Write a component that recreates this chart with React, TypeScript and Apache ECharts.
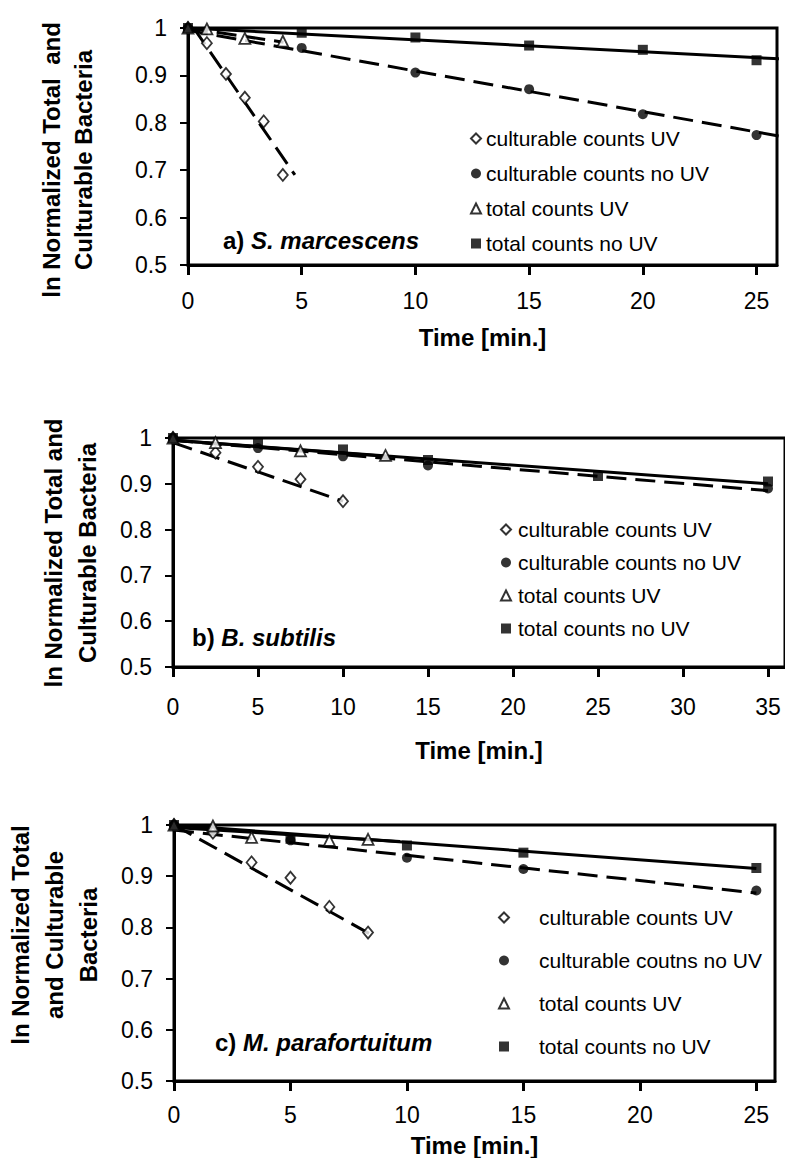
import React, { useEffect, useRef } from "react";
import * as echarts from "echarts";

const FONT = "'Liberation Sans', Arial, Helvetica, sans-serif";

// ---------- Panel a) S. marcescens ----------
const aCultUVx = [0, 0.83, 1.67, 2.5, 3.33, 4.17];
const aCultUVy = [1, 0.968, 0.903, 0.853, 0.803, 0.69];
const aCultNoUVx = [0, 5, 10, 15, 20, 25];
const aCultNoUVy = [1, 0.958, 0.906, 0.871, 0.818, 0.774];
const aTotUVx = [0, 0.83, 2.5, 4.17];
const aTotUVy = [1, 0.998, 0.978, 0.972];
const aTotNoUVx = [0, 5, 10, 15, 20, 25];
const aTotNoUVy = [1, 0.99, 0.98, 0.963, 0.954, 0.932];
// trend line end points [x0, x1], [y0, y1]
const aTrendCultUVx = [0.25, 4.7];
const aTrendCultUVy = [1.0, 0.69];
const aTrendCultNoUVx = [0, 26];
const aTrendCultNoUVy = [0.995, 0.772];
const aTrendTotUVx = [0, 4.2];
const aTrendTotUVy = [1.0, 0.97];
const aTrendTotNoUVx = [0, 26];
const aTrendTotNoUVy = [1.0, 0.935];

// ---------- Panel b) B. subtilis ----------
const bCultUVx = [0, 2.5, 5, 7.5, 10];
const bCultUVy = [1, 0.968, 0.937, 0.91, 0.862];
const bCultNoUVx = [0, 5, 10, 15, 35];
const bCultNoUVy = [1, 0.978, 0.96, 0.94, 0.89];
const bTotUVx = [0, 2.5, 7.5, 12.5];
const bTotUVy = [1, 0.99, 0.972, 0.962];
const bTotNoUVx = [0, 5, 10, 15, 25, 35];
const bTotNoUVy = [1, 0.99, 0.975, 0.952, 0.917, 0.905];
const bTrendCultUVx = [0, 10];
const bTrendCultUVy = [0.99, 0.862];
const bTrendCultNoUVx = [0, 35];
const bTrendCultNoUVy = [0.995, 0.885];
const bTrendTotUVx = [0, 12.5];
const bTrendTotUVy = [0.995, 0.96];
const bTrendTotNoUVx = [0, 35];
const bTrendTotNoUVy = [0.995, 0.9];

// ---------- Panel c) M. parafortuitum ----------
const cCultUVx = [0, 1.67, 3.33, 5, 6.67, 8.33];
const cCultUVy = [1, 0.985, 0.927, 0.897, 0.84, 0.79];
const cCultNoUVx = [0, 5, 10, 15, 25];
const cCultNoUVy = [1, 0.97, 0.936, 0.914, 0.872];
const cTotUVx = [0, 1.67, 3.33, 6.67, 8.33];
const cTotUVy = [1, 0.998, 0.976, 0.97, 0.972];
const cTotNoUVx = [0, 5, 10, 15, 25];
const cTotNoUVy = [1, 0.973, 0.96, 0.946, 0.916];
const cTrendCultUVx = [0, 8.7];
const cTrendCultUVy = [1.0, 0.78];
const cTrendCultNoUVx = [0, 25];
const cTrendCultNoUVy = [0.99, 0.867];
const cTrendTotUVx = [0, 9.7];
const cTrendTotUVy = [0.995, 0.968];
const cTrendTotNoUVx = [0, 25];
const cTrendTotNoUVy = [1.0, 0.915];

const xTicksA = [0, 5, 10, 15, 20, 25];
const xTicksB = [0, 5, 10, 15, 20, 25, 30, 35];
const xTicksC = [0, 5, 10, 15, 20, 25];

const namesAB = [
  "culturable counts UV",
  "culturable counts no UV",
  "total counts UV",
  "total counts no UV",
];
const namesC = [
  "culturable counts UV",
  "culturable coutns no UV",
  "total counts UV",
  "total counts no UV",
];

const zip = (xs: number[], ys: number[]) => xs.map((x, i) => [x, ys[i]]);

const markerStyles = [
  { symbol: "diamond", symbolSize: [10, 12], itemStyle: { color: "#fff", borderColor: "#000", borderWidth: 1.8 } },
  { symbol: "circle", symbolSize: 10, itemStyle: { color: "#000", borderColor: "#000", borderWidth: 0 } },
  { symbol: "triangle", symbolSize: 11, itemStyle: { color: "#fff", borderColor: "#000", borderWidth: 1.8 } },
  { symbol: "rect", symbolSize: 10, itemStyle: { color: "#000", borderColor: "#000", borderWidth: 0 } },
];

function panelSeries(
  idx: number,
  names: string[],
  pts: [number[], number[]][],
  trends: [number[], number[]][],
  trendTypes: ("solid" | "dashed")[]
) {
  const out: any[] = [];
  trends.forEach((t, i) => {
    out.push({
      type: "line",
      name: `trend ${idx}-${i}`,
      xAxisIndex: idx,
      yAxisIndex: idx,
      data: zip(t[0], t[1]),
      showSymbol: false,
      symbol: "none",
      lineStyle: {
        color: "#000",
        width: 3,
        type: trendTypes[i] === "dashed" ? [20, 9] : "solid",
      },
      z: 2,
      silent: true,
    });
  });
  pts.forEach((p, i) => {
    out.push({
      type: "scatter",
      name: names[i],
      xAxisIndex: idx,
      yAxisIndex: idx,
      data: zip(p[0], p[1]),
      ...markerStyles[i],
      z: 5,
    });
  });
  return out;
}

function xAxisCfg(idx: number, max: number, ticks: number[], margin: number, nameGap: number) {
  return {
    type: "value",
    gridIndex: idx,
    min: 0,
    max,
    name: "Time [min.]",
    nameLocation: "middle",
    nameGap,
    nameTextStyle: { fontFamily: FONT, fontSize: 24, fontWeight: "bold", color: "#000" },
    axisLine: { show: true, lineStyle: { color: "#000", width: 3 } },
    axisTick: { show: true, length: 10, lineStyle: { color: "#000", width: 3 }, customValues: ticks },
    axisLabel: { fontFamily: FONT, fontSize: 23, color: "#000", margin, customValues: ticks },
    splitLine: { show: false },
  };
}

function yAxisCfg(idx: number) {
  return {
    type: "value",
    gridIndex: idx,
    min: 0.5,
    max: 1,
    interval: 0.1,
    axisLine: { show: true, lineStyle: { color: "#000", width: 3 } },
    axisTick: { show: true, length: 8, lineStyle: { color: "#000", width: 2 } },
    axisLabel: { fontFamily: FONT, fontSize: 23, color: "#000", margin: 21 },
    splitLine: { show: false },
  };
}

function legendCfg(left: number, top: number, gap: number, names: string[], textPad: number) {
  return {
    orient: "vertical",
    left,
    top,
    itemWidth: 10,
    itemHeight: 10,
    itemGap: gap,
    selectedMode: false,
    data: names,
    textStyle: {
      fontFamily: FONT,
      fontSize: 21,
      color: "#000",
      lineHeight: 21,
      padding: [0, 0, 0, textPad],
    },
  };
}

function panelLabel(x: number, y: number, letter: string, species: string) {
  return {
    type: "text",
    x,
    y,
    style: {
      text: `{a|${letter}) }{b|${species}}`,
      rich: {
        a: { fontFamily: FONT, fontSize: 24, fontWeight: "bold", fill: "#000" },
        b: { fontFamily: FONT, fontSize: 24, fontWeight: "bold", fontStyle: "italic", fill: "#000" },
      },
      verticalAlign: "middle",
      align: "left",
    },
  };
}

function yTitle(x: number, y: number, text: string, lh: number) {
  return {
    type: "text",
    x,
    y,
    rotation: Math.PI / 2,
    style: {
      text,
      fontFamily: FONT,
      fontSize: 24,
      fontWeight: "bold",
      fill: "#000",
      align: "center",
      verticalAlign: "middle",
      lineHeight: lh,
    },
  };
}

export default function App() {
  const ref = useRef<HTMLDivElement>(null);
  useEffect(() => {
    if (!ref.current) return;
    const chart = echarts.init(ref.current, undefined, { renderer: "svg" });
    const gridStyle = { show: true, borderColor: "#000", borderWidth: 3, backgroundColor: "transparent" };
    const option: any = {
      animation: false,
      backgroundColor: "#fff",
      grid: [
        { left: 188, top: 28, width: 589, height: 237, ...gridStyle },
        { left: 173, top: 438, width: 614, height: 229, ...gridStyle },
        { left: 174, top: 825, width: 601, height: 258, ...gridStyle },
      ],
      xAxis: [
        xAxisCfg(0, 25.9, xTicksA, 24, 60),
        xAxisCfg(1, 36, xTicksB, 28, 71),
        xAxisCfg(2, 25.8, xTicksC, 22, 52),
      ],
      yAxis: [yAxisCfg(0), yAxisCfg(1), yAxisCfg(2)],
      legend: [
        legendCfg(465, 123, 14, namesAB, 0),
        legendCfg(495, 514, 12, namesAB, 2),
        legendCfg(493, 902, 22, namesC, 25),
      ],
      graphic: [
        yTitle(67, 160, "ln Normalized Total  and\nCulturable Bacteria", 32),
        yTitle(70, 553, "ln Normalized Total and\nCulturable Bacteria", 34),
        yTitle(54, 935, "ln Normalized Total\nand Culturable\nBacteria", 34),
        panelLabel(223, 240, "a", "S. marcescens"),
        panelLabel(192, 637, "b", "B. subtilis"),
        panelLabel(215, 1042, "c", "M. parafortuitum"),
      ],
      series: [
        ...panelSeries(
          0,
          namesAB,
          [
            [aCultUVx, aCultUVy],
            [aCultNoUVx, aCultNoUVy],
            [aTotUVx, aTotUVy],
            [aTotNoUVx, aTotNoUVy],
          ],
          [
            [aTrendCultUVx, aTrendCultUVy],
            [aTrendCultNoUVx, aTrendCultNoUVy],
            [aTrendTotUVx, aTrendTotUVy],
            [aTrendTotNoUVx, aTrendTotNoUVy],
          ],
          ["dashed", "dashed", "dashed", "solid"]
        ),
        ...panelSeries(
          1,
          namesAB,
          [
            [bCultUVx, bCultUVy],
            [bCultNoUVx, bCultNoUVy],
            [bTotUVx, bTotUVy],
            [bTotNoUVx, bTotNoUVy],
          ],
          [
            [bTrendCultUVx, bTrendCultUVy],
            [bTrendCultNoUVx, bTrendCultNoUVy],
            [bTrendTotUVx, bTrendTotUVy],
            [bTrendTotNoUVx, bTrendTotNoUVy],
          ],
          ["dashed", "dashed", "solid", "solid"]
        ),
        ...panelSeries(
          2,
          namesC,
          [
            [cCultUVx, cCultUVy],
            [cCultNoUVx, cCultNoUVy],
            [cTotUVx, cTotUVy],
            [cTotNoUVx, cTotNoUVy],
          ],
          [
            [cTrendCultUVx, cTrendCultUVy],
            [cTrendCultNoUVx, cTrendCultNoUVy],
            [cTrendTotUVx, cTrendTotUVy],
            [cTrendTotNoUVx, cTrendTotNoUVy],
          ],
          ["dashed", "dashed", "solid", "solid"]
        ),
      ],
    };
    chart.setOption(option);
    return () => chart.dispose();
  }, []);
  return (
    <div
      ref={ref}
      style={{ position: "fixed", left: 0, top: 0, width: 785, height: 1158, background: "#fff" }}
    />
  );
}
